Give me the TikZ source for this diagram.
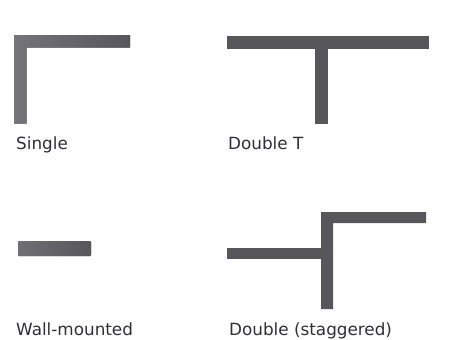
\documentclass[tikz,border=0pt]{standalone}
\usepackage{fontspec}
\setsansfont{DejaVu Sans}
\definecolor{bargray}{RGB}{86,86,91}
\definecolor{labelgray}{RGB}{48,48,52}
\tikzset{
  bar/.style={fill=bargray,draw=none},
  caption/.style={anchor=base west,inner sep=0pt,text=labelgray}
}
\begin{document}
\begin{tikzpicture}[x=1pt,y=-1pt,font=\sffamily\fontsize{16.8}{20}\selectfont]
\useasboundingbox (0,0) rectangle (461,340);
% Single
\fill[bar,left color=bargray!82!white,right color=bargray] (14,35) -- (130,35) -- (130,47.5) -- (26.5,47.5) -- (26.5,123.5) -- (14,123.5) -- cycle;
\node[caption] (single) at (16,149) {Single};
% Double T
\fill[bar] (227,36) rectangle (429,49);
\fill[bar] (315,36) rectangle (328,123.5);
\node[caption] (doublet) at (228,149) {Double T};
% Wall-mounted
\fill[bar,rounded corners=1pt,left color=bargray!85!white,right color=bargray] (18,241) rectangle (91,256);
\node[caption] (wall) at (16,335) {Wall-mounted};
% Double (staggered)
\fill[bar] (227,248) rectangle (322,259);
\fill[bar] (321,212) -- (426,212) -- (426,223) -- (333,223) -- (333,309) -- (321,309) -- cycle;
\node[caption] (staggered) at (229,335) {Double (staggered)};
\end{tikzpicture}
\end{document}
